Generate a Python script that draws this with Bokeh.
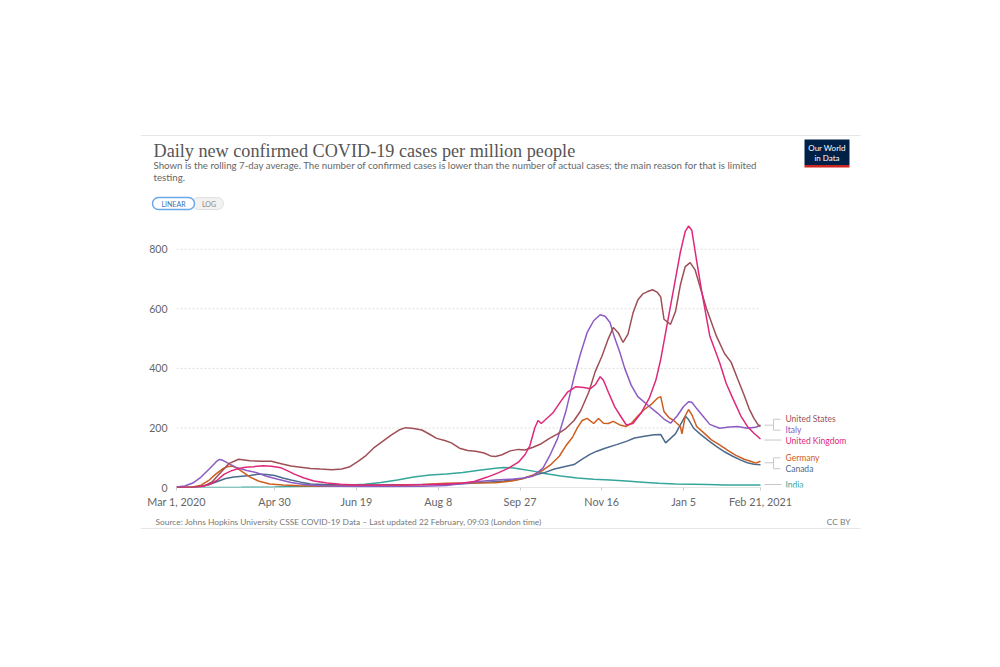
from bokeh.plotting import figure
from bokeh.layouts import column
from bokeh.models import Range1d, FixedTicker, Label
from bokeh.embed import file_html
from bokeh.resources import INLINE
from bokeh.core.properties import value

# ---------------- data (x = days since 2020-03-01) ----------------
tick_days = [0, 60, 110, 160, 210, 260, 310, 357]
tick_labels = ["Mar 1, 2020", "Apr 30", "Jun 19", "Aug 8", "Sep 27", "Nov 16", "Jan 5", "Feb 21, 2021"]
y_ticks = [0, 200, 400, 600, 800]

us_days = [0, 10, 17, 22, 27, 32, 38, 45, 52, 58, 64, 70, 76, 82, 88, 95, 101, 106, 111, 116, 121, 126, 131, 136,
           140, 145, 150, 155, 159, 164, 168, 173, 178, 183, 188, 192, 195, 199, 204, 209, 213, 218, 223, 228, 233,
           238, 243, 247, 252, 256, 260, 264, 267, 270, 273, 276, 279, 282, 285, 288, 291, 294, 296, 298, 302, 305,
           308, 311, 314, 317, 320, 324, 330, 335, 339, 343, 347, 350, 353, 356, 357]
us_vals = [0, 1, 5, 20, 50, 80, 95, 90, 88, 88, 80, 72, 68, 64, 62, 60, 62, 70, 88, 108, 135, 155, 175, 193,
           201, 198, 193, 178, 165, 158, 150, 132, 124, 122, 116, 106, 104, 110, 123, 128, 126, 135, 147, 165, 180,
           198, 225, 257, 320, 390, 440, 500, 537, 520, 487, 515, 585, 630, 650, 658, 664, 655, 640, 565, 548, 590,
           680, 742, 755, 731, 675, 600, 509, 450, 421, 365, 310, 265, 232, 207, 205]

it_days = [0, 5, 10, 15, 20, 24, 26, 28, 32, 37, 43, 49, 55, 62, 70, 78, 90, 110, 130, 150, 165, 175, 185, 195,
           205, 212, 218, 224, 228, 233, 238, 243, 247, 251, 255, 259, 262, 265, 268, 271, 274, 278, 282, 288, 294,
           298, 302, 306, 310, 313, 315, 318, 321, 326, 332, 338, 343, 349, 354, 357]
it_vals = [2, 5, 15, 35, 62, 85, 94, 92, 80, 66, 57, 50, 38, 28, 17, 10, 5, 3, 3, 4, 7, 13, 20, 25,
           28, 32, 38, 65, 105, 165, 255, 370, 450, 520, 560, 580, 575, 554, 500, 454, 400, 343, 305, 277, 250,
           230, 216, 240, 272, 288, 286, 265, 245, 212, 199, 203, 205, 199, 202, 210]

uk_days = [0, 10, 15, 20, 25, 29, 33, 37, 42, 47, 53, 58, 64, 68, 72, 78, 84, 92, 100, 110, 120, 140, 155, 165,
           175, 182, 190, 197, 203, 209, 213, 216, 219, 221, 223, 226, 230, 235, 239, 244, 249, 253, 256, 259, 261,
           264, 268, 272, 275, 279, 284, 289, 293, 296, 299, 302, 305, 308, 311, 313, 315, 318, 321, 326, 332, 336,
           340, 345, 349, 353, 357]
uk_vals = [0, 1, 3, 10, 25, 44, 55, 62, 68, 70, 73, 71, 66, 56, 45, 32, 22, 15, 11, 8, 8, 9, 10, 12,
           15, 20, 35, 50, 65, 85, 110, 140, 200, 225, 215, 230, 250, 290, 320, 338, 336, 332, 345, 372, 360,
           320, 270, 235, 210, 215, 250, 300, 360, 430, 520, 610, 700, 790, 860, 878, 864, 760, 660, 509, 420, 350,
           300, 240, 205, 182, 163]

de_days = [0, 10, 15, 20, 24, 28, 31, 34, 37, 41, 45, 50, 57, 65, 75, 90, 110, 130, 150, 165, 180, 195, 205, 212,
           218, 224, 229, 234, 238, 242, 245, 248, 251, 255, 258, 261, 264, 267, 271, 275, 278, 282, 286, 290, 294,
           296, 298, 301, 304, 308, 309, 311, 313, 315, 318, 322, 327, 332, 337, 342, 347, 351, 354, 357]
de_vals = [0, 2, 8, 25, 45, 62, 70, 72, 65, 50, 35, 22, 12, 8, 6, 4, 5, 6, 10, 14, 15, 16, 22, 30,
           42, 58, 78, 105, 140, 168, 200, 225, 232, 215, 232, 216, 215, 222, 210, 205, 215, 240, 262, 278, 300,
           305, 255, 235, 225, 205, 180, 240, 262, 245, 205, 185, 160, 143, 125, 108, 95, 88, 82, 88]

ca_days = [0, 10, 15, 20, 25, 30, 35, 40, 45, 50, 55, 60, 65, 70, 76, 82, 90, 100, 110, 125, 140, 155, 170, 180,
           190, 200, 210, 218, 225, 231, 237, 243, 248, 253, 257, 262, 269, 275, 280, 286, 292, 296, 299, 302, 305,
           308, 311, 313, 316, 320, 325, 330, 335, 340, 345, 349, 353, 357]
ca_vals = [0, 1, 4, 10, 20, 30, 35, 38, 40, 45, 44, 40, 32, 25, 18, 12, 10, 9, 8, 8, 9, 10, 11, 14,
           18, 22, 28, 40, 50, 62, 70, 77, 95, 112, 122, 132, 144, 155, 166, 172, 177, 178, 150, 165, 180,
           210, 240, 228, 200, 180, 158, 138, 120, 105, 92, 83, 78, 76]

in_days = [0, 20, 40, 60, 80, 100, 115, 125, 135, 145, 155, 165, 175, 185, 195, 200, 205, 210, 218, 225, 235, 245,
           255, 265, 275, 285, 295, 305, 315, 325, 335, 345, 357]
in_vals = [0, 0.3, 0.7, 1.5, 4, 7, 11, 17, 25, 35, 42, 45, 50, 58, 65, 67, 66, 62, 55, 47, 39, 32,
           28, 25, 22, 18, 14, 12, 11, 10, 8, 8, 8]

countries = ["United States", "Italy", "United Kingdom", "Germany", "Canada", "India"]
colors = ["#9e4f55", "#8c5cc4", "#e0287a", "#cf5d1f", "#4c6a8c", "#35a69a"]
series = [(us_days, us_vals), (it_days, it_vals), (uk_days, uk_vals),
          (de_days, de_vals), (ca_days, ca_vals), (in_days, in_vals)]

FONT = "Lato"
W = 992
HEAD_H, MAIN_H, FOOT_H = 215, 295, 40

# ---------------- header (coordinates = page pixels) ----------------
head = figure(width=W, height=HEAD_H, output_backend="svg", toolbar_location=None,
              x_range=Range1d(0, W), y_range=Range1d(HEAD_H, 0),
              x_axis_location=None, y_axis_location=None, min_border=0, frame_align=False)
head.outline_line_color = None
head.xgrid.grid_line_color = None
head.ygrid.grid_line_color = None
head.segment(x0=[140], x1=[860], y0=[135], y1=[135], line_color="#e6e6e6", line_width=1)
head.add_layout(Label(x=153, y=150, text="Daily new confirmed COVID-19 cases per million people",
                      text_font="Liberation Serif", text_font_size="18.2px", text_color="#555555",
                      text_baseline="middle"))
head.add_layout(Label(x=153, y=164,
                      text="Shown is the rolling 7-day average. The number of confirmed cases is lower than the number of actual cases; the main reason for that is limited",
                      text_font=FONT, text_font_size="9.7px", text_color="#666666", text_baseline="middle"))
head.add_layout(Label(x=153, y=176, text="testing.",
                      text_font=FONT, text_font_size="9.7px", text_color="#666666", text_baseline="middle"))
head.quad(left=[192], right=[223], top=[197], bottom=[209], fill_color="#f2f2f2",
          line_color="#e0e0e0", border_radius=6)
head.quad(left=[152], right=[194], top=[197], bottom=[209], fill_color="white",
          line_color="#6aa8ec", line_width=1.5, border_radius=6)
head.text(x=[173, 208.5], y=[203, 203], text=["LINEAR", "LOG"], text_color=["#3a6fb8", "#888888"],
          text_font=value(FONT), text_font_size="7px", text_align="center", text_baseline="middle")
head.quad(left=[804], right=[849], top=[139], bottom=[164.5], fill_color="#002147", line_color=None)
head.quad(left=[804], right=[849], top=[164.5], bottom=[167], fill_color="#ce261e", line_color=None)
head.text(x=[826.5, 826.5], y=[147, 157], text=["Our World", "in Data"], text_color="white",
          text_font=value(FONT), text_font_size="8px", text_align="center", text_baseline="middle")

# ---------------- main chart ----------------
PXD = 584.0 / 357.0            # pixels per day
PYV = 271.0 / 900.0            # pixels per unit
def X(px):                      # page x -> day
    return (px - 176.0) / PXD
def Y(py):                      # page y -> value
    return (490.0 - py) / PYV

p = figure(width=W, height=MAIN_H, output_backend="svg", toolbar_location=None,
           x_range=Range1d(0, 684 / PXD), y_range=Range1d(0, 900), frame_align=False,
           min_border_left=176, min_border_right=W - 176 - 684, min_border_top=4, min_border_bottom=20)
p.outline_line_color = None
p.xgrid.grid_line_color = None
p.ygrid.grid_line_color = None

p.yaxis.ticker = FixedTicker(ticks=y_ticks)
p.yaxis.axis_line_color = None
p.yaxis.major_tick_line_color = None
p.yaxis.minor_tick_line_color = None
p.yaxis.major_label_standoff = 3
p.yaxis.major_label_text_font = FONT
p.yaxis.major_label_text_font_size = "10.5px"
p.yaxis.major_label_text_color = "#666666"

p.xaxis.ticker = FixedTicker(ticks=tick_days)
p.xaxis.major_label_overrides = {d: l for d, l in zip(tick_days, tick_labels)}
p.xaxis.axis_line_color = None
p.xaxis.major_tick_line_color = "#cccccc"
p.xaxis.major_tick_in = 0
p.xaxis.major_tick_out = 3
p.xaxis.minor_tick_line_color = None
p.xaxis.major_label_standoff = 4
p.xaxis.major_label_text_font = FONT
p.xaxis.major_label_text_font_size = "10.8px"
p.xaxis.major_label_text_color = "#666666"

grid_vals = [v for v in y_ticks if v > 0]
p.segment(x0=[0] * len(grid_vals), x1=[tick_days[-1]] * len(grid_vals), y0=grid_vals, y1=grid_vals,
          line_color="#dddddd", line_width=1, line_dash="2 2")
p.segment(x0=[0], x1=[tick_days[-1]], y0=[0], y1=[0], line_color="#cccccc", line_width=1)

for i in [5, 4, 3, 1, 0, 2]:
    d, v = series[i]
    p.line(d, v, line_color=colors[i], line_width=1.5)

lab_py = [421, 432, 443, 460, 471, 487]
p.text(x=[X(785)] * 6, y=[Y(py) for py in lab_py], text=countries, text_color=colors,
       text_font=value(FONT), text_font_size="8.5px", text_baseline="middle", text_align="left")
conn_px = [
    ([764, 773], [427, 427]), ([773, 773], [421, 432]), ([773, 780], [421, 421]), ([773, 780], [432, 432]),
    ([764, 781], [442, 442]),
    ([764, 773], [465, 465]), ([773, 773], [460, 471]), ([773, 780], [460, 460]), ([773, 780], [471, 471]),
    ([764, 781], [487, 487]),
]
p.multi_line(xs=[[X(a) for a in xs] for xs, ys in conn_px], ys=[[Y(b) for b in ys] for xs, ys in conn_px],
             line_color="#c8c8c8", line_width=1)

# ---------------- footer (coordinates = page pixels) ----------------
TOP = HEAD_H + MAIN_H
foot = figure(width=W, height=FOOT_H, output_backend="svg", toolbar_location=None,
              x_range=Range1d(0, W), y_range=Range1d(TOP + FOOT_H, TOP),
              x_axis_location=None, y_axis_location=None, min_border=0, frame_align=False)
foot.outline_line_color = None
foot.xgrid.grid_line_color = None
foot.ygrid.grid_line_color = None
foot.add_layout(Label(x=155, y=521,
                      text="Source: Johns Hopkins University CSSE COVID-19 Data – Last updated 22 February, 09:03 (London time)",
                      text_font=FONT, text_font_size="8.4px", text_color="#777777", text_baseline="middle"))
foot.add_layout(Label(x=850, y=521, text="CC BY", text_font=FONT, text_font_size="8.4px",
                      text_color="#777777", text_baseline="middle", text_align="right"))
foot.segment(x0=[140], x1=[860], y0=[528], y1=[528], line_color="#e6e6e6", line_width=1)

layout = column(head, p, foot, spacing=0)
open("out.html", "w").write(file_html(layout, INLINE))
